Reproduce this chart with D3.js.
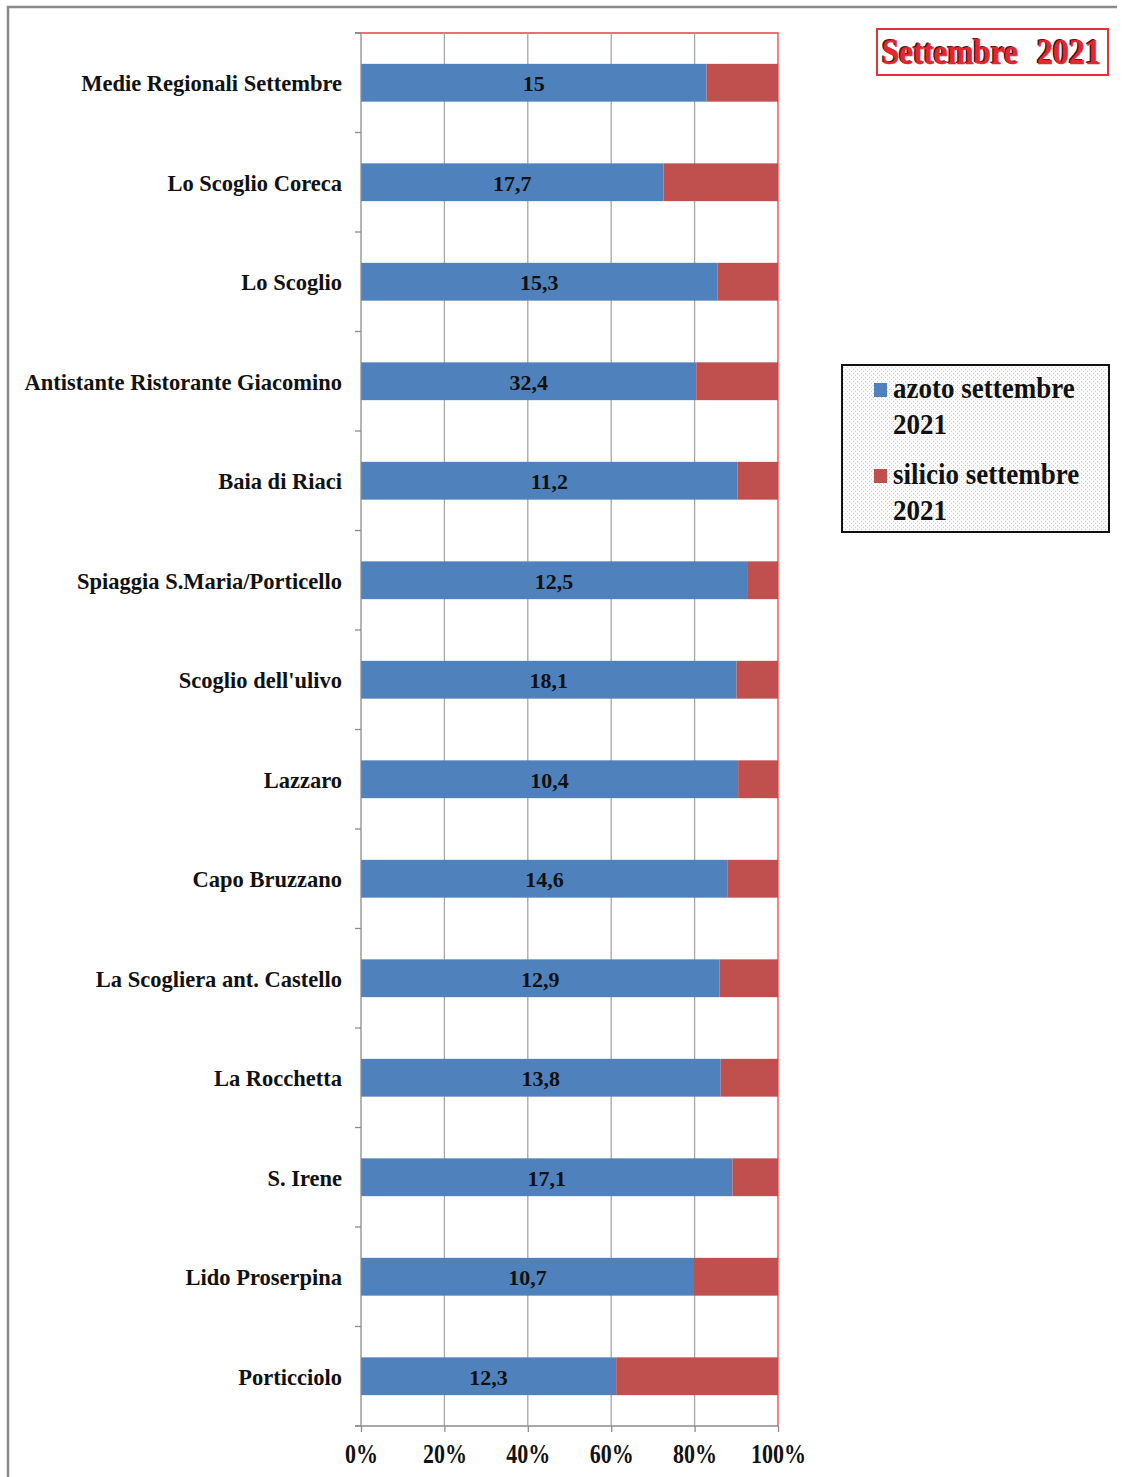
<!DOCTYPE html>
<html>
<head>
<meta charset="utf-8">
<script src="https://cdn.jsdelivr.net/npm/d3@7"></script>
<style>
  html, body { margin: 0; padding: 0; background: #fff; }
  svg { display: block; }
  text { font-family: "Liberation Serif", "Times New Roman", serif; font-weight: bold; }
</style>
</head>
<body>
<svg id="chart" width="1125" height="1477"></svg>
<script>
// Sampling stations, top to bottom
const stations = [
  "Medie Regionali Settembre",
  "Lo Scoglio Coreca",
  "Lo Scoglio",
  "Antistante Ristorante Giacomino",
  "Baia di Riaci",
  "Spiaggia S.Maria/Porticello",
  "Scoglio dell'ulivo",
  "Lazzaro",
  "Capo Bruzzano",
  "La Scogliera ant. Castello",
  "La Rocchetta",
  "S. Irene",
  "Lido Proserpina",
  "Porticciolo"
];
// Nitrogen (azoto) values, labelled on the bars
const azoto = [15, 17.7, 15.3, 32.4, 11.2, 12.5, 18.1, 10.4, 14.6, 12.9, 13.8, 17.1, 10.7, 12.3];
// Silicon (silicio) values
const silicio = [3.1, 6.7, 2.6, 7.9, 1.2, 1.0, 2.0, 1.1, 2.0, 2.1, 2.2, 2.1, 2.7, 7.8];
const seriesNames = ["azoto settembre 2021", "silicio settembre 2021"];
const percentTicks = [0, 0.2, 0.4, 0.6, 0.8, 1];
const titleWords = ["Settembre", "2021"];

const BLUE = "#4f81bd", RED = "#c0504d";

const svg = d3.select("#chart");

// outer frame (left and top edges)
svg.append("path")
  .attr("d", "M8,1477 L8,7 L1117,7")
  .attr("fill", "none").attr("stroke", "#8a8a8a").attr("stroke-width", 2.5);

const plot = { left: 361, right: 778, top: 33, bottom: 1426 };

const x = d3.scaleLinear().domain([0, 1]).range([plot.left, plot.right]);
const y = d3.scaleBand().domain(stations).range([plot.top, plot.bottom])
  .paddingInner(0.62).paddingOuter(0.31);
const step = y.step();

// normalised stack
const rows = stations.map((s, i) => {
  const tot = azoto[i] + silicio[i];
  return { name: s, az: azoto[i], si: silicio[i], pAz: azoto[i] / tot };
});

// plot area border (red, top and right edges)
svg.append("path")
  .attr("d", `M${plot.left - 6},${plot.top}H${plot.right}V${plot.bottom}`)
  .attr("fill", "none").attr("stroke", "#e8404a").attr("stroke-width", 1.3);

// vertical gridlines
svg.append("g").selectAll("line")
  .data(percentTicks.filter(t => t > 0 && t < 1))
  .join("line")
  .attr("x1", d => x(d)).attr("x2", d => x(d))
  .attr("y1", plot.top).attr("y2", plot.bottom)
  .attr("stroke", "#a6a6a6").attr("stroke-width", 1.3);

// bars
const barG = svg.append("g");
barG.selectAll("rect.az").data(rows).join("rect")
  .attr("class", "az")
  .attr("x", x(0)).attr("y", d => y(d.name))
  .attr("width", d => x(d.pAz) - x(0)).attr("height", y.bandwidth())
  .attr("fill", BLUE);
barG.selectAll("rect.si").data(rows).join("rect")
  .attr("class", "si")
  .attr("x", d => x(d.pAz)).attr("y", d => y(d.name))
  .attr("width", d => x(1) - x(d.pAz)).attr("height", y.bandwidth())
  .attr("fill", RED);

// value labels (azoto)
const fmt = v => String(v).replace(".", ",");
barG.selectAll("text").data(rows).join("text")
  .attr("x", d => (x(0) + x(d.pAz)) / 2)
  .attr("y", d => y(d.name) + y.bandwidth() / 2)
  .attr("dy", "0.38em")
  .attr("text-anchor", "middle")
  .attr("font-size", 22)
  .attr("fill", "#111")
  .text(d => fmt(d.az));

// left axis line + boundary ticks
const axisG = svg.append("g").attr("stroke", "#8c8c8c").attr("stroke-width", 1.3);
axisG.append("line")
  .attr("x1", plot.left).attr("x2", plot.left)
  .attr("y1", plot.top).attr("y2", plot.bottom);
axisG.selectAll("line.ytick").data(d3.range(stations.length + 1)).join("line")
  .attr("class", "ytick")
  .attr("x1", plot.left - 6).attr("x2", plot.left)
  .attr("y1", i => plot.top + i * step).attr("y2", i => plot.top + i * step);

// bottom axis
const xAxis = d3.axisBottom(x).tickValues(percentTicks)
  .tickFormat(d => Math.round(d * 100) + "%").tickSize(6).tickPadding(8);
const xg = svg.append("g").attr("transform", `translate(0,${plot.bottom})`).call(xAxis);
xg.select(".domain").attr("stroke", "#8c8c8c").attr("stroke-width", 1.3)
  .attr("d", `M${plot.left - 6},0H${plot.right}`);
xg.selectAll(".tick line").attr("stroke", "#8c8c8c").attr("stroke-width", 1.3);
xg.selectAll(".tick text")
  .attr("font-size", 22).attr("font-family", "Liberation Serif").attr("font-weight", "bold")
  .attr("fill", "#111").attr("dy", null).attr("y", 0)
  .attr("transform", "translate(0,37) scale(1,1.2)");

// category labels
svg.append("g").selectAll("text").data(stations).join("text")
  .attr("x", 342)
  .attr("y", d => y(d) + y.bandwidth() / 2)
  .attr("dy", "0.38em")
  .attr("text-anchor", "end")
  .attr("font-size", 22.5)
  .attr("fill", "#111")
  .text(d => d);

// title box
svg.append("rect")
  .attr("x", 877).attr("y", 29).attr("width", 231).attr("height", 46)
  .attr("fill", "#fff").attr("stroke", "#e8303a").attr("stroke-width", 2);
const titlePos = [{ x: 882, w: 136 }, { x: 1037, w: 64 }];
titleWords.forEach((w, i) => {
  svg.append("text")
    .attr("x", titlePos[i].x - 1.5).attr("y", 63)
    .attr("font-size", 35).attr("fill", "#4a0c10")
    .attr("textLength", titlePos[i].w).attr("lengthAdjust", "spacingAndGlyphs")
    .text(w);
  svg.append("text")
    .attr("x", titlePos[i].x).attr("y", 64)
    .attr("font-size", 35).attr("fill", "#e5262f")
    .attr("stroke", "#e5262f").attr("stroke-width", 0.6)
    .attr("textLength", titlePos[i].w).attr("lengthAdjust", "spacingAndGlyphs")
    .text(w);
});

// legend
const defs = svg.append("defs");
const pat = defs.append("pattern").attr("id", "dots")
  .attr("width", 4).attr("height", 4).attr("patternUnits", "userSpaceOnUse");
pat.append("rect").attr("width", 4).attr("height", 4).attr("fill", "#fbfbfb");
pat.append("rect").attr("x", 1).attr("y", 1).attr("width", 1).attr("height", 1).attr("fill", "#c8c8c8");
pat.append("rect").attr("x", 3).attr("y", 3).attr("width", 1).attr("height", 1).attr("fill", "#d8d8d8");

svg.append("rect")
  .attr("x", 842).attr("y", 365).attr("width", 267).attr("height", 167)
  .attr("fill", "url(#dots)").attr("stroke", "#111").attr("stroke-width", 2);

const legendItems = [
  { color: BLUE, lines: ["azoto settembre", "2021"], top: 383 },
  { color: RED, lines: ["silicio settembre", "2021"], top: 469 }
];
legendItems.forEach((it, k) => {
  svg.append("rect").attr("x", 874).attr("y", it.top).attr("width", 13).attr("height", 14)
    .attr("fill", it.color);
  it.lines.forEach((ln, j) => {
    svg.append("text")
      .attr("transform", `translate(893,${it.top + 15 + j * 36}) scale(1,1.1)`)
      .attr("font-size", 27).attr("fill", "#111")
      .text(ln);
  });
});
</script>
</body>
</html>
